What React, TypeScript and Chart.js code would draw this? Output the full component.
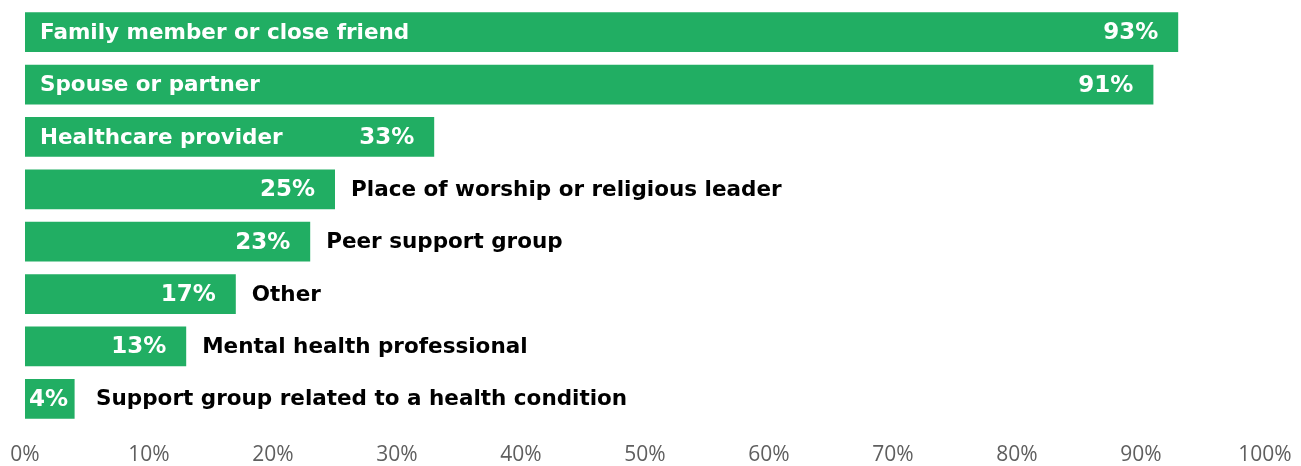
import React, { useEffect, useRef } from "react";
import { Chart, registerables } from "chart.js";

Chart.register(...registerables);

const categories = [
  "Family member or close friend",
  "Spouse or partner",
  "Healthcare provider",
  "Place of worship or religious leader",
  "Peer support group",
  "Other",
  "Mental health professional",
  "Support group related to a health condition",
];
const values = [93, 91, 33, 25, 23, 17, 13, 4];
const insideLabel = [true, true, true, false, false, false, false, false];
const xTicks = [0, 10, 20, 30, 40, 50, 60, 70, 80, 90, 100];

const GREEN = "#21AE63";
const LABEL_FONT = "bold 21.5px 'DejaVu Sans'";
const VALUE_FONT = "bold 23px 'DejaVu Sans'";

const labelPlugin = {
  id: "barLabels",
  afterDatasetsDraw(chart: any) {
    const ctx = chart.ctx;
    const meta = chart.getDatasetMeta(0);
    ctx.save();
    ctx.textBaseline = "middle";
    meta.data.forEach((bar: any, i: number) => {
      const start = bar.base;
      const end = bar.x;
      const y = bar.y + 1;
      const valText = values[i] + "%";
      ctx.font = VALUE_FONT;
      const vw = ctx.measureText(valText).width;
      const vRight = Math.max(end - 20, start + vw + 4);
      ctx.fillStyle = "#ffffff";
      ctx.textAlign = "right";
      ctx.fillText(valText, vRight, y);
      ctx.font = LABEL_FONT;
      ctx.textAlign = "left";
      if (insideLabel[i]) {
        ctx.fillStyle = "#ffffff";
        ctx.fillText(categories[i], start + 15, y);
      } else {
        ctx.fillStyle = "#000000";
        ctx.fillText(categories[i], Math.max(end + 16, vRight + 28), y);
      }
    });
    ctx.restore();
  },
};

export default function App() {
  const ref = useRef<HTMLCanvasElement>(null);
  useEffect(() => {
    if (!ref.current) return;
    const chart = new Chart(ref.current, {
      type: "bar",
      data: {
        labels: categories,
        datasets: [
          {
            data: values,
            backgroundColor: GREEN,
            borderWidth: 0,
            barPercentage: 0.76,
            categoryPercentage: 1,
          },
        ],
      },
      options: {
        indexAxis: "y",
        animation: false,
        responsive: false,
        maintainAspectRatio: false,
        layout: { padding: { left: 25, right: 36, top: 6, bottom: 0 } },
        plugins: { legend: { display: false }, tooltip: { enabled: false } },
        scales: {
          x: {
            min: 0,
            max: 100,
            afterBuildTicks: (axis: any) => {
              axis.ticks = xTicks.map((v) => ({ value: v }));
            },
            afterFit: (axis: any) => {
              axis.height = 41;
              axis.paddingLeft = 0;
              axis.paddingRight = 0;
            },
            grid: { display: false, drawTicks: false },
            border: { display: false },
            ticks: {
              padding: 17,
              color: "#5f5f5f",
              font: { family: "Open Sans", size: 21 },
              callback: (v: any) => v + "%",
              maxRotation: 0,
            },
          },
          y: {
            display: false,
            grid: { display: false },
          },
        },
      },
      plugins: [labelPlugin],
    });
    return () => chart.destroy();
  }, []);
  return (
    <div style={{ position: "absolute", left: 0, top: 0, width: 1301, height: 466, background: "#fff" }}>
      <canvas ref={ref} width={1301} height={466} style={{ width: 1301, height: 466 }} />
    </div>
  );
}
